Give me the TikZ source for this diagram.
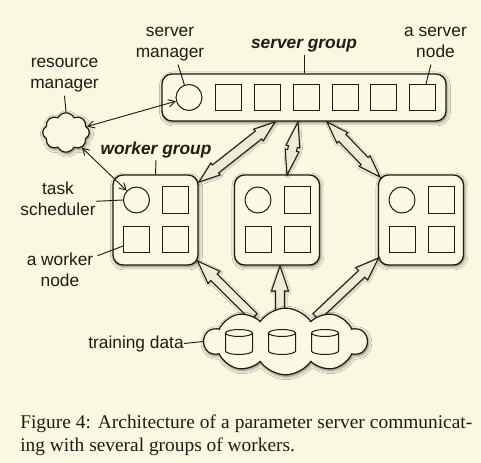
\documentclass[tikz,border=0pt]{standalone}
\usepackage{fontspec}
\setmainfont{Liberation Sans}
\newfontfamily\capfont{Liberation Serif}
\usetikzlibrary{calc,arrows.meta,shapes.geometric,shapes.symbols,shadows.blur}
\definecolor{bgc}{RGB}{250,248,224}
\definecolor{boxc}{RGB}{251,249,230}
\definecolor{arrc}{RGB}{237,236,215}
\definecolor{inkc}{RGB}{30,29,18}
\newcommand\lblfont{\fontsize{13}{15.75}\selectfont}
\newcommand\capsize{\fontsize{14.55}{17}\selectfont}
% fat double arrow: #1 start, #2 end, #3 head length, #4 head half width, #5 body half width (px)
\newcommand\fatdbl[5]{%
  \path let \p1=($(#2)-(#1)$) in \pgfextra{%
    \pgfmathsetmacro\fa{atan2(\y1,\x1)}%
    \pgfmathsetmacro\fl{veclen(\x1,\y1)/0.75}%
    \global\let\fa\fa \global\let\fl\fl};
  \filldraw[fatarr, shift={(#1)}, rotate=\fa]
    (0,0) -- (#3,#4) -- (#3,#5) -- (\fl-#3,#5) -- (\fl-#3,#4) -- (\fl,0)
    -- (\fl-#3,-#4) -- (\fl-#3,-#5) -- (#3,-#5) -- (#3,-#4) -- cycle;
}
% fat single arrow, head at #2
\newcommand\fatsgl[5]{%
  \path let \p1=($(#2)-(#1)$) in \pgfextra{%
    \pgfmathsetmacro\fa{atan2(\y1,\x1)}%
    \pgfmathsetmacro\fl{veclen(\x1,\y1)/0.75}%
    \global\let\fa\fa \global\let\fl\fl};
  \filldraw[fatarr, shift={(#1)}, rotate=\fa]
    (0,-#5) -- (\fl-#3,-#5) -- (\fl-#3,-#4) -- (\fl,0) -- (\fl-#3,#4)
    -- (\fl-#3,#5) -- (0,#5) -- cycle;
}
\tikzset{
  shadowed/.style={blur shadow={shadow xshift=0.7pt, shadow yshift=-1.1pt, shadow blur radius=2.6pt, shadow opacity=55}},
  grpbox/.style={rectangle, draw=inkc, fill=boxc, line width=1pt, rounded corners=7.5pt, shadowed, inner sep=0pt},
  circ/.style={circle, draw=inkc, fill=boxc, line width=0.75pt, minimum size=19.5pt, inner sep=0pt},
  sq/.style={rectangle, draw=inkc, fill=boxc, line width=0.75pt, minimum size=19.5pt, inner sep=0pt},
  cloudnode/.style={cloud, draw=inkc, fill=boxc, line width=0.9pt, shadowed, inner sep=0pt},
  dbpic/.pic={
    \coordinate (-c) at (0,0);
    \filldraw[draw=inkc, fill=boxc, line width=0.75pt]
      (-13.5,-9) -- (-13.5,9)
      arc[start angle=180, end angle=360, x radius=10.125pt, y radius=2.6pt]
      -- (13.5,-9)
      arc[start angle=0, end angle=180, x radius=10.125pt, y radius=2.6pt]
      arc[start angle=180, end angle=360, x radius=10.125pt, y radius=2.6pt];
  },
  fatarr/.style={draw=inkc, fill=arrc, line width=0.8pt, line join=miter, blur shadow={shadow xshift=0.5pt, shadow yshift=-0.8pt, shadow blur radius=1.5pt, shadow opacity=35}},
  thinarr/.style={draw=inkc, line width=0.7pt, {Straight Barb[length=5pt,width=5.5pt]}-{Straight Barb[length=5pt,width=5.5pt]}},
  leader/.style={draw=inkc, line width=0.7pt},
  lbl/.style={anchor=base, inner sep=0pt, font=\lblfont, text=inkc},
  glbl/.style={lbl, font=\lblfont\bfseries\itshape},
  caplbl/.style={anchor=base west, inner sep=0pt, font=\capfont\capsize, text=inkc}
}
\begin{document}
\begin{tikzpicture}[x=0.75pt, y=-0.75pt]
\fill[bgc] (0,0) rectangle (481,463);
\useasboundingbox (0,0) rectangle (481,463);

% server group
\node[grpbox, minimum width=213pt, minimum height=35.25pt] (sg) at (304,97.5) {};
\node[circ] (sm) at (189,97.5) {};
\foreach \i/\xx in {1/228.5,2/267,3/306,4/345,5/383.5,6/422.5}
  \node[sq] (s\i) at (\xx,97.5) {};

% worker groups
\foreach \k/\xx in {1/155.5,2/277,3/421}{
  \node[grpbox, minimum width=63.75pt, minimum height=67.5pt] (w\k) at (\xx,220) {};
  \node[circ] (wc\k) at (\xx-19,200) {};
  \node[sq] (wb\k) at (\xx+20,200) {};
  \node[sq] (wa\k) at (\xx-19,239) {};
  \node[sq] (wd\k) at (\xx+20,239) {};
}

% resource manager cloud
\node[cloudnode, cloud puffs=8, cloud puff arc=125, aspect=1.15, minimum width=35pt, minimum height=29.5pt] (rm) at (66,132.5) {};

% data arrows
\coordinate (d1a) at (254,317);
\coordinate (d1b) at (197.5,261);
\coordinate (d2a) at (280,313);
\coordinate (d2b) at (280,266);
\coordinate (d3a) at (316,317);
\coordinate (d3b) at (378.5,258);
\fatsgl{d1a}{d1b}{23}{8.5}{4.5}
\fatsgl{d2a}{d2b}{25}{8.5}{4.5}
\fatsgl{d3a}{d3b}{23}{8.5}{4.5}

% training data cloud
\node[cloudnode, cloud puffs=10, cloud puff arc=112, aspect=2.5, minimum width=122pt, minimum height=50pt] (td) at (285.5,341.5) {};
\pic (db1) at (239,342) {dbpic};
\pic (db2) at (282,342) {dbpic};
\pic (db3) at (325,342) {dbpic};

% server <-> worker bolts
\coordinate (b1a) at (275,122);
\coordinate (b1b) at (199,182);
\coordinate (b2a) at (298,122);
\coordinate (b2b) at (287,175);
\coordinate (b3a) at (327,122);
\coordinate (b3b) at (380,177);
\fatdbl{b1a}{b1b}{21}{7.5}{5}
\fatdbl{b2a}{b2b}{25}{7}{4.5}
\fatdbl{b3a}{b3b}{22}{7.5}{5}

% thin arrows
\draw[thinarr] (rm) -- (sm);
\draw[thinarr] (rm) -- (wc1);

% labels
\node[lbl] (smlbl) at (170,37) {\begin{tabular}[t]{@{}c@{}}server\\manager\end{tabular}};
\node[glbl] (sglbl) at (304,49) {server group};
\node[lbl] (snlbl) at (435.5,37) {\begin{tabular}[t]{@{}c@{}}a server\\node\end{tabular}};
\node[lbl] (rmlbl) at (64.5,68) {\begin{tabular}[t]{@{}c@{}}resource\\manager\end{tabular}};
\node[glbl] (wglbl) at (156,155) {worker group};
\node[lbl] (tslbl) at (58,195) {\begin{tabular}[t]{@{}c@{}}task\\scheduler\end{tabular}};
\node[lbl] (wnlbl) at (60,265) {\begin{tabular}[t]{@{}c@{}}a worker\\node\end{tabular}};
\node[lbl] (tdlbl) at (136,348) {training data};

% leader lines
\draw[leader] ([xshift=6pt]smlbl.south) -- (sm.110);
\draw[leader] ([yshift=-1.5pt]sglbl.south) -- (sg.north);
\draw[leader] ([xshift=-3.4pt]snlbl.south) -- ([xshift=2.6pt]s6.north);
\draw[leader] (rmlbl.south) -- (rm.north);
\draw[leader] ([yshift=-1pt]wglbl.south) -- (w1.north);
\draw[leader] (tslbl.east) -- (wc1.west);
\draw[leader] ([xshift=3pt,yshift=-4.3pt]wnlbl.north east) -- ([yshift=-5.25pt]wa1.west);
\draw[leader] (tdlbl.east) -- (td.west);

% caption
\node[caplbl] (cap1) at (20,428) {\makebox[339pt][s]{Figure 4: Architecture of a parameter server communicat-}};
\node[caplbl] (cap2) at (20,451) {ing with several groups of workers.};
\end{tikzpicture}
\end{document}
